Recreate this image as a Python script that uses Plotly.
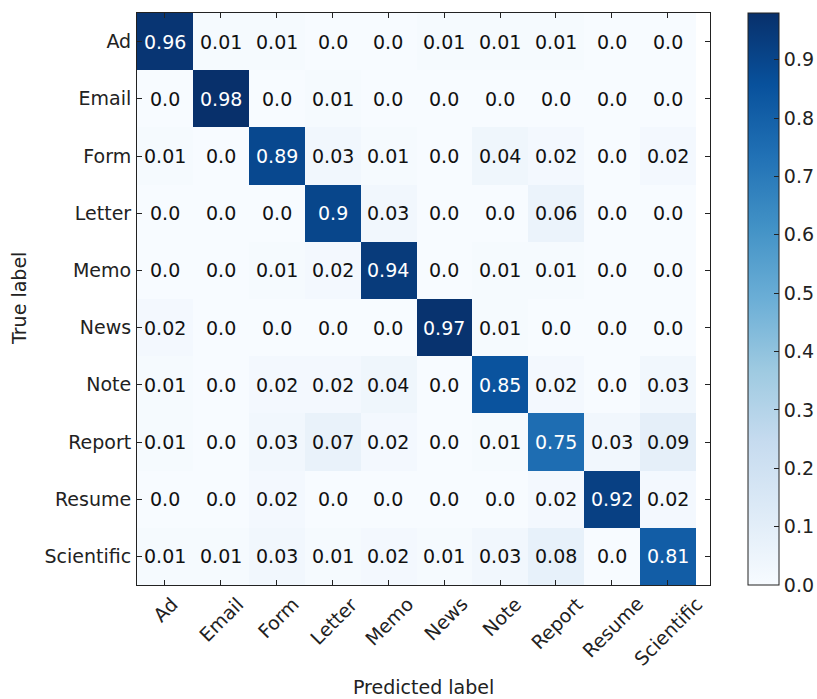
import plotly.graph_objects as go

categories = ["Ad", "Email", "Form", "Letter", "Memo", "News", "Note", "Report", "Resume", "Scientific"]

row_ad = [0.96, 0.01, 0.01, 0.0, 0.0, 0.01, 0.01, 0.01, 0.0, 0.0]
row_email = [0.0, 0.98, 0.0, 0.01, 0.0, 0.0, 0.0, 0.0, 0.0, 0.0]
row_form = [0.01, 0.0, 0.89, 0.03, 0.01, 0.0, 0.04, 0.02, 0.0, 0.02]
row_letter = [0.0, 0.0, 0.0, 0.9, 0.03, 0.0, 0.0, 0.06, 0.0, 0.0]
row_memo = [0.0, 0.0, 0.01, 0.02, 0.94, 0.0, 0.01, 0.01, 0.0, 0.0]
row_news = [0.02, 0.0, 0.0, 0.0, 0.0, 0.97, 0.01, 0.0, 0.0, 0.0]
row_note = [0.01, 0.0, 0.02, 0.02, 0.04, 0.0, 0.85, 0.02, 0.0, 0.03]
row_report = [0.01, 0.0, 0.03, 0.07, 0.02, 0.0, 0.01, 0.75, 0.03, 0.09]
row_resume = [0.0, 0.0, 0.02, 0.0, 0.0, 0.0, 0.0, 0.02, 0.92, 0.02]
row_scientific = [0.01, 0.01, 0.03, 0.01, 0.02, 0.01, 0.03, 0.08, 0.0, 0.81]

matrix = [row_ad, row_email, row_form, row_letter, row_memo,
          row_news, row_note, row_report, row_resume, row_scientific]

colorbar_ticks = [0.0, 0.1, 0.2, 0.3, 0.4, 0.5, 0.6, 0.7, 0.8, 0.9]

blues = ["#f7fbff", "#deebf7", "#c6dbef", "#9ecae1", "#6baed6",
         "#4292c6", "#2171b5", "#08519c", "#08306b"]
colorscale = [[i / (len(blues) - 1), c] for i, c in enumerate(blues)]

FONT = "DejaVu Sans"
TXT = "#222"
FS = 19
zmax = max(max(r) for r in matrix)
thresh = zmax / 2.0

L, R, T, B = 137, 107, 13, 114
PW = 817 - L - R
PH = 699 - T - B

fig = go.Figure()
fig.add_trace(go.Heatmap(
    z=matrix, x=categories, y=categories,
    colorscale=colorscale, zmin=0, zmax=zmax,
    showscale=True,
    colorbar=dict(
        x=(748 - L) / PW, xanchor="left", xpad=0,
        y=0.5, yanchor="middle", len=1, lenmode="fraction", ypad=0,
        thickness=31, thicknessmode="pixels",
        outlinecolor=TXT, outlinewidth=1,
        tickvals=colorbar_ticks, ticktext=[f"{v:.1f}" for v in colorbar_ticks],
        ticks="inside", ticklen=5, tickcolor=TXT,
        tickfont=dict(family=FONT, size=FS, color=TXT),
    ),
    hoverinfo="skip",
))

annotations = []
for i, row in enumerate(matrix):
    for j, v in enumerate(row):
        annotations.append(dict(
            x=categories[j], y=categories[i], xref="x", yref="y",
            text=str(v), showarrow=False,
            font=dict(family=FONT, size=FS, color="white" if v > thresh else "#111"),
        ))

for c in categories:
    annotations.append(dict(
        x=c, y=0, xref="x", yref="paper", yshift=-5, xshift=1,
        text=c, textangle=-45, showarrow=False,
        xanchor="center", yanchor="top",
        font=dict(family=FONT, size=FS, color=TXT),
    ))

annotations.append(dict(
    x=0.5, y=-(687 - (T + PH)) / PH, xref="paper", yref="paper", text="Predicted label",
    showarrow=False, xanchor="center", yanchor="middle",
    font=dict(family=FONT, size=FS, color=TXT),
))
annotations.append(dict(
    x=(19 - L) / PW, y=0.5, xref="paper", yref="paper", text="True label",
    showarrow=False, textangle=-90, xanchor="center", yanchor="middle",
    font=dict(family=FONT, size=FS, color=TXT),
))

fig.update_layout(
    width=817, height=699,
    margin=dict(l=L, r=R, t=T, b=B, autoexpand=False),
    paper_bgcolor="white", plot_bgcolor="white",
    font=dict(family=FONT, size=FS, color=TXT),
    annotations=annotations,
    xaxis=dict(
        showticklabels=False, ticks="inside", ticklen=5, tickcolor=TXT,
        showline=True, linecolor=TXT, linewidth=1, mirror="ticks",
        showgrid=False, zeroline=False, layer="above traces",
    ),
    yaxis=dict(
        autorange="reversed", ticks="inside", ticklen=5, tickcolor=TXT,
        showline=True, linecolor=TXT, linewidth=1, mirror="ticks",
        showgrid=False, zeroline=False, layer="above traces",
        tickfont=dict(family=FONT, size=FS, color=TXT),
        ticklabelstandoff=1,
    ),
)

fig.write_html("out.html", config={"displayModeBar": False},
               post_script="document.body.style.margin='0px';document.body.style.padding='0px';")
